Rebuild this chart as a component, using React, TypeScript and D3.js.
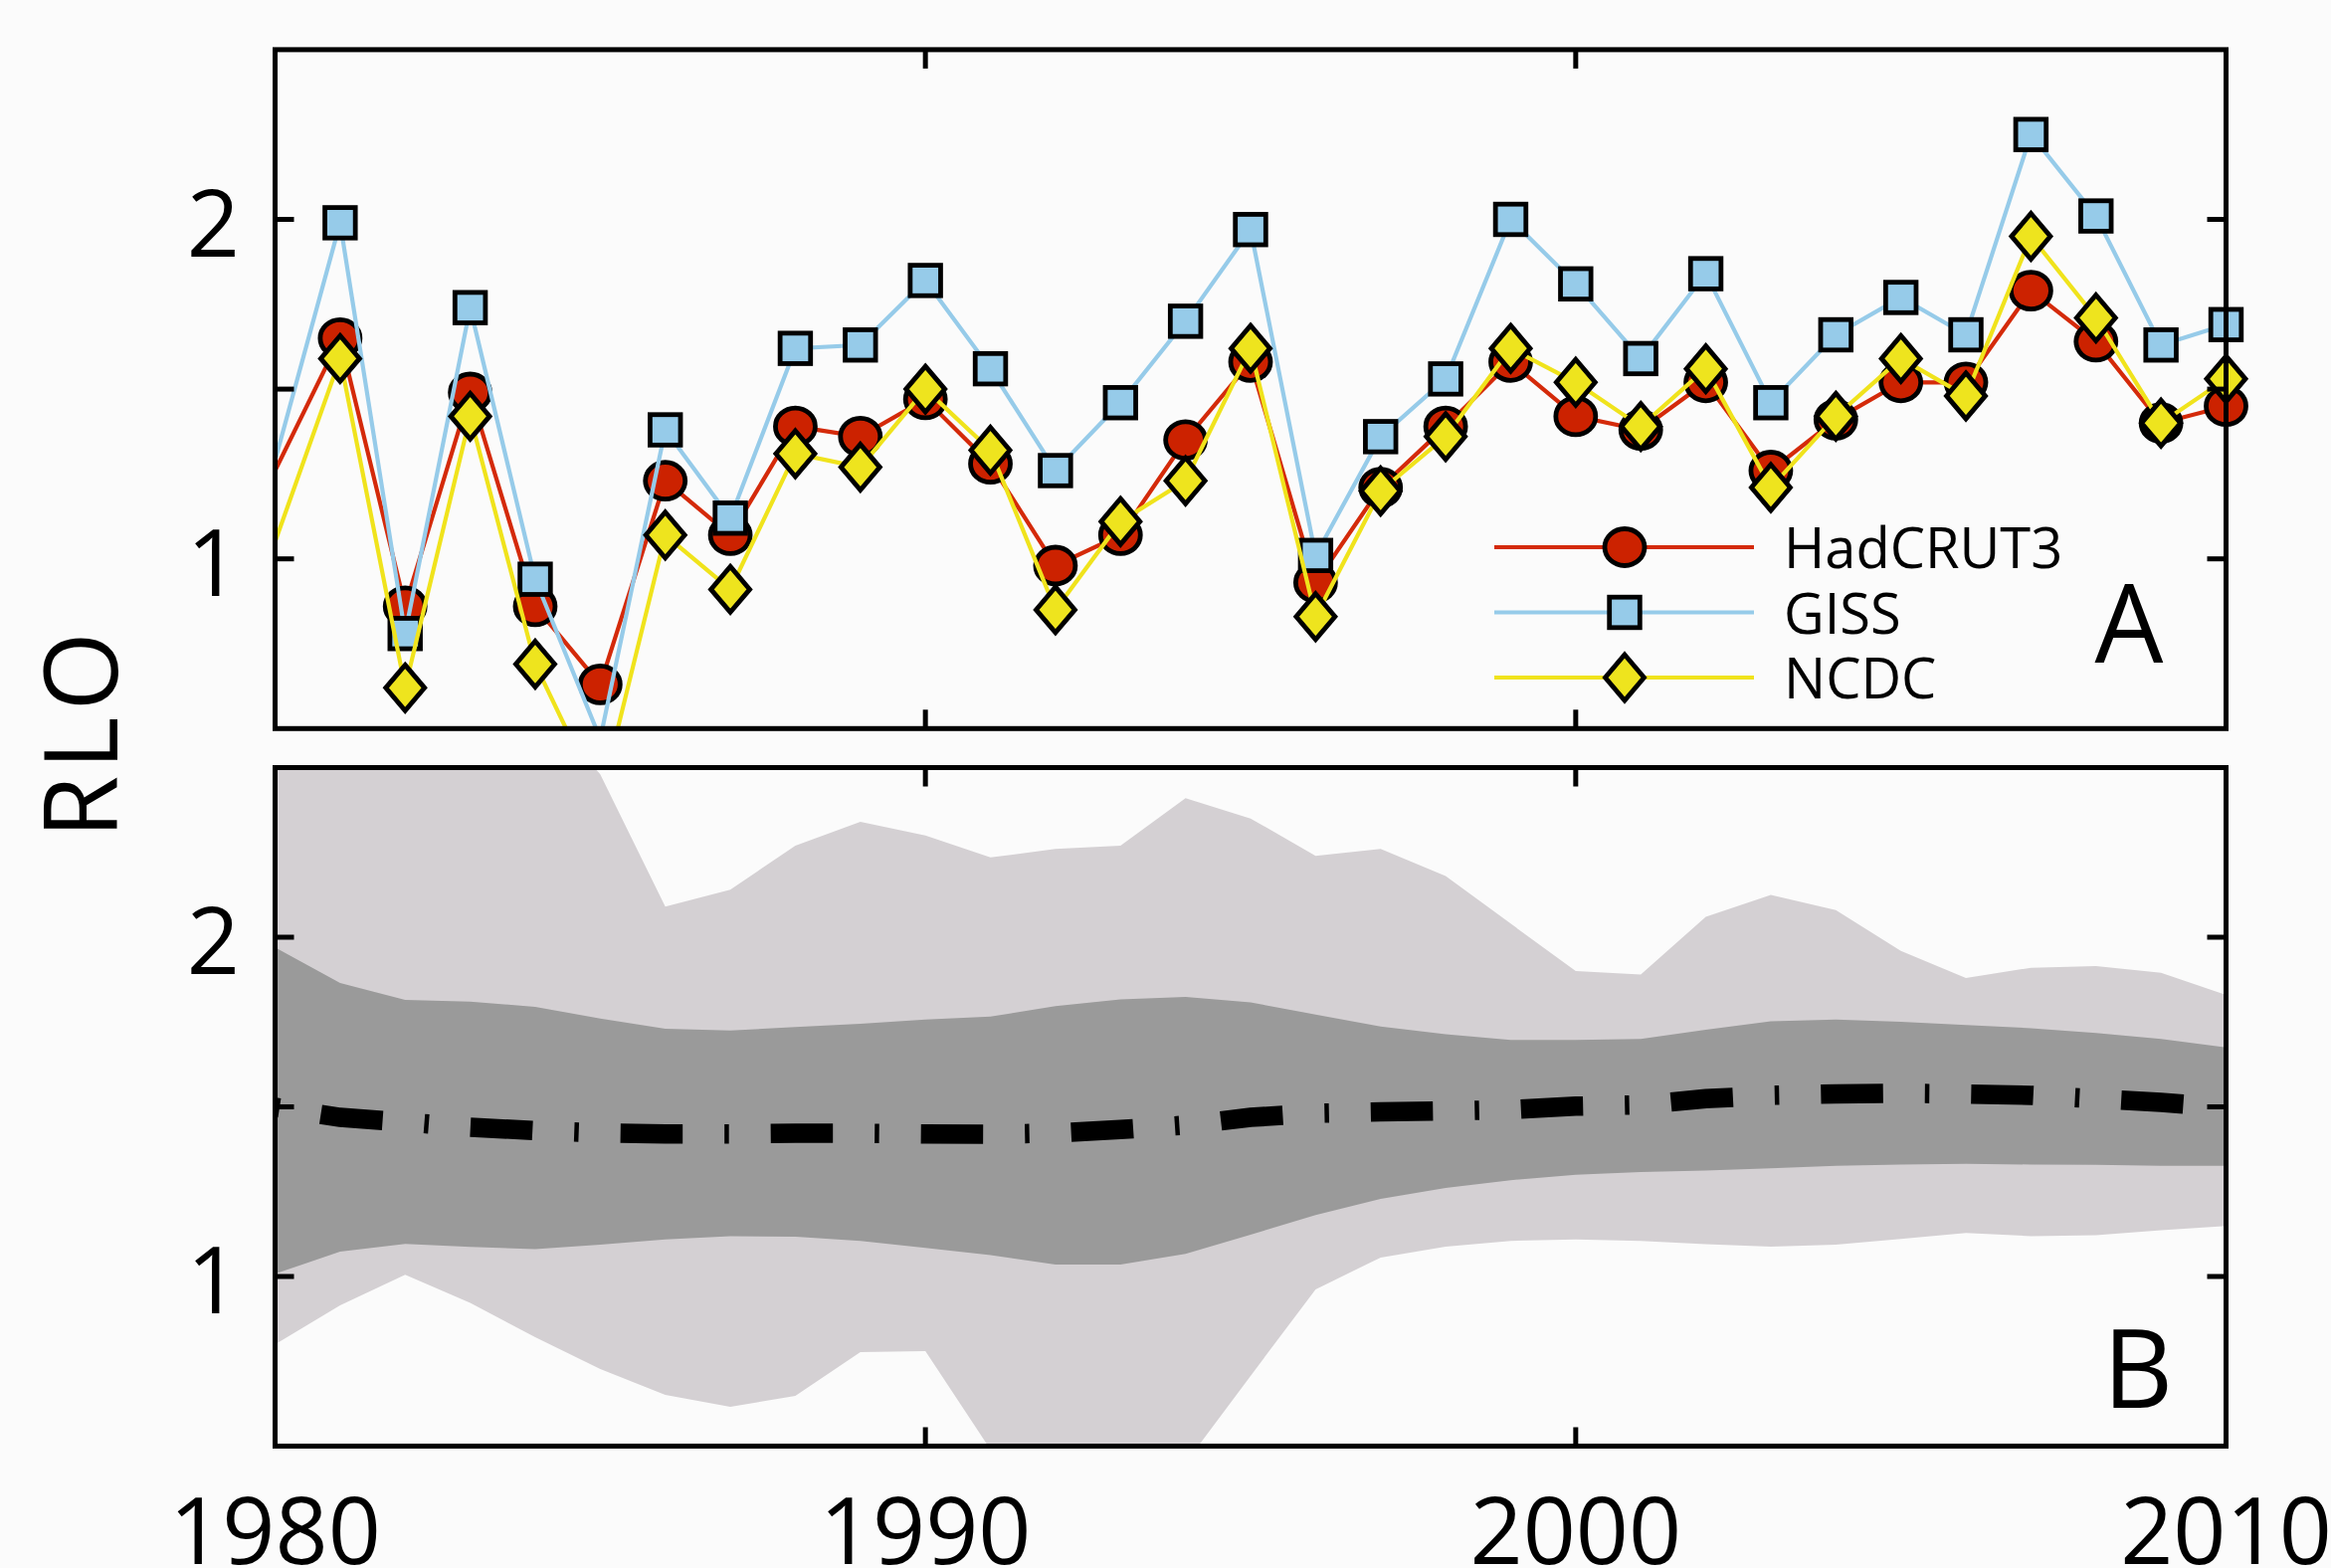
import React from "react";
import * as d3 from "d3";

const years = [1980,1981,1982,1983,1984,1985,1986,1987,1988,1989,1990,1991,1992,1993,1994,1995,1996,1997,1998,1999,2000,2001,2002,2003,2004,2005,2006,2007,2008,2009,2010];

const hadcrut3 = [1.26,1.65,0.86,1.49,0.86,0.63,1.23,1.07,1.39,1.36,1.47,1.28,0.98,1.07,1.35,1.58,0.93,1.21,1.39,1.58,1.42,1.38,1.52,1.26,1.41,1.52,1.52,1.79,1.64,1.40,1.45];
const giss = [1.29,1.99,0.78,1.74,0.94,0.47,1.38,1.12,1.62,1.63,1.82,1.56,1.26,1.46,1.70,1.97,1.01,1.36,1.53,2.00,1.81,1.59,1.84,1.46,1.66,1.77,1.66,2.25,2.01,1.63,1.69];
const ncdc = [1.05,1.59,0.62,1.42,0.69,0.29,1.07,0.91,1.31,1.27,1.50,1.32,0.85,1.11,1.23,1.62,0.83,1.20,1.36,1.62,1.52,1.39,1.56,1.21,1.42,1.59,1.48,1.95,1.71,1.40,1.53];

const lightUpper = [2.7,2.7,2.7,2.7,2.7,2.48,2.09,2.14,2.27,2.34,2.30,2.235,2.26,2.27,2.41,2.35,2.24,2.26,2.18,2.04,1.90,1.89,2.06,2.125,2.08,1.96,1.88,1.91,1.915,1.895,1.83];
const darkUpper = [1.97,1.865,1.815,1.81,1.795,1.76,1.73,1.725,1.735,1.745,1.757,1.766,1.797,1.817,1.824,1.808,1.772,1.737,1.714,1.697,1.697,1.70,1.727,1.752,1.757,1.751,1.741,1.732,1.718,1.70,1.675];
const darkLower = [1.008,1.073,1.096,1.087,1.081,1.094,1.109,1.119,1.117,1.105,1.084,1.063,1.035,1.035,1.067,1.123,1.181,1.229,1.261,1.284,1.30,1.308,1.312,1.319,1.326,1.33,1.332,1.33,1.329,1.326,1.326];
const lightLower = [0.80,0.915,1.005,0.922,0.821,0.727,0.651,0.616,0.648,0.777,0.78,0.49,0.35,0.35,0.45,0.707,0.962,1.056,1.088,1.105,1.109,1.105,1.095,1.088,1.094,1.111,1.128,1.119,1.122,1.136,1.149];
const median = [1.499,1.469,1.455,1.44,1.43,1.423,1.42,1.42,1.422,1.422,1.42,1.419,1.423,1.433,1.446,1.469,1.481,1.485,1.488,1.492,1.502,1.506,1.524,1.534,1.538,1.54,1.538,1.534,1.524,1.513,1.499];

const xTicks = [1980, 1990, 2000, 2010];
const xInnerTicks = [1990, 2000];
const yTicks = [1, 1.5, 2];
const yLabels = [1, 2];
const seriesNames = ["HadCRUT3", "GISS", "NCDC"];

const W = 2343, H = 1576;
const FONT = "'Open Sans', 'Noto Sans', sans-serif";
const BG = "#fbfbfb";

const x = d3.scaleLinear().domain([1980, 2010]).range([276.5, 2237.5]);
const yTop = d3.scaleLinear().domain([0.5, 2.5]).range([732.3, 49.9]);
const yBot = d3.scaleLinear().domain([0.5, 2.5]).range([1453.5, 771.5]);

const COLORS = {
  red: "#d42a0a",
  redFill: "#cc2200",
  blue: "#96cbe9",
  yellow: "#f0e31c",
  yellowFill: "#eee41e",
};

type Marker = "circle" | "square" | "diamond";

function MarkerShape({ kind, cx, cy, fill }: { kind: Marker; cx: number; cy: number; fill: string }) {
  const sw = 4.8;
  if (kind === "circle") return <ellipse cx={cx} cy={cy} rx={20} ry={18.5} fill={fill} stroke="#000" strokeWidth={sw} />;
  if (kind === "square") return <rect x={cx - 15.3} y={cy - 15.3} width={30.6} height={30.6} fill={fill} stroke="#000" strokeWidth={sw} />;
  return <path d={`M${cx},${cy - 23}L${cx + 19.5},${cy}L${cx},${cy + 23}L${cx - 19.5},${cy}Z`} fill={fill} stroke="#000" strokeWidth={sw} strokeLinejoin="miter" />;
}

function Frame({ y }: { y: d3.ScaleLinear<number, number> }) {
  const [x0, x1] = x.range();
  const yb = y(0.5), yt = y(2.5);
  const tl = 19, sw = 5;
  return (
    <g stroke="#000" strokeWidth={sw} fill="none">
      {yTicks.map((t) => (
        <g key={t}>
          <line x1={x0} x2={x0 + tl} y1={y(t)} y2={y(t)} />
          <line x1={x1} x2={x1 - tl} y1={y(t)} y2={y(t)} />
        </g>
      ))}
      {xInnerTicks.map((t) => (
        <g key={t}>
          <line x1={x(t)} x2={x(t)} y1={yb} y2={yb - tl} />
          <line x1={x(t)} x2={x(t)} y1={yt} y2={yt + tl} />
        </g>
      ))}
      <rect x={x0} y={yt} width={x1 - x0} height={yb - yt} />
    </g>
  );
}

function YLabels({ y }: { y: d3.ScaleLinear<number, number> }) {
  return (
    <g fontFamily={FONT} fontSize={93} fill="#000" textAnchor="end">
      {yLabels.map((t) => (
        <text key={t} x={241} y={y(t) + 37}>{t}</text>
      ))}
    </g>
  );
}

export default function App() {
  const series = [
    { name: seriesNames[0], values: hadcrut3, line: COLORS.red, fill: COLORS.redFill, marker: "circle" as Marker },
    { name: seriesNames[1], values: giss, line: COLORS.blue, fill: COLORS.blue, marker: "square" as Marker },
    { name: seriesNames[2], values: ncdc, line: COLORS.yellow, fill: COLORS.yellowFill, marker: "diamond" as Marker },
  ];

  const lineTop = (vals: number[]) =>
    d3.line<number>().x((_, i) => x(years[i])).y((v) => yTop(v))(vals) || "";

  const bandArea = (lo: number[], hi: number[]) =>
    d3
      .area<number>()
      .x((_, i) => x(years[i]))
      .y0((_, i) => yBot(lo[i]))
      .y1((_, i) => yBot(hi[i]))(years) || "";

  const medianPath = d3.line<number>().x((_, i) => x(years[i])).y((v) => yBot(v))(median) || "";

  const [x0, x1] = x.range();
  const legendX0 = 1502, legendX1 = 1763, legendMarkerX = 1633, legendTextX = 1793;
  const legendYs = [550, 615.5, 681];

  return (
    <svg width={W} height={H} style={{ position: "absolute", left: 0, top: 0, background: BG }}>
      <defs>
        <clipPath id="clipTop">
          <rect x={x0} y={yTop(2.5)} width={x1 - x0} height={yTop(0.5) - yTop(2.5)} />
        </clipPath>
        <clipPath id="clipBot">
          <rect x={x0} y={yBot(2.5)} width={x1 - x0} height={yBot(0.5) - yBot(2.5)} />
        </clipPath>
      </defs>
      <rect x={0} y={0} width={W} height={H} fill={BG} />

      {/* Panel A */}
      {series.map((s) => (
        <g key={s.name}>
          <path d={lineTop(s.values)} fill="none" stroke={s.line} strokeWidth={4.2} clipPath="url(#clipTop)" />
          {s.values.map((v, i) =>
            years[i] > 1980 && v >= 0.5 && v <= 2.5 ? (
              <MarkerShape key={i} kind={s.marker} cx={x(years[i])} cy={yTop(v)} fill={s.fill} />
            ) : null
          )}
        </g>
      ))}

      {/* Legend */}
      {series.map((s, i) => (
        <g key={s.name}>
          <line x1={legendX0} x2={legendX1} y1={legendYs[i]} y2={legendYs[i]} stroke={s.line} strokeWidth={4.2} />
          <MarkerShape kind={s.marker} cx={legendMarkerX} cy={legendYs[i]} fill={s.fill} />
          <text x={legendTextX} y={legendYs[i] + 21} fontFamily={FONT} fontSize={56} fill="#000">{s.name}</text>
        </g>
      ))}
      <text x={2140} y={666} fontFamily={FONT} fontSize={109} textAnchor="middle" fill="#000">A</text>
      <Frame y={yTop} />
      <YLabels y={yTop} />

      {/* Panel B */}
      <g clipPath="url(#clipBot)">
        <path d={bandArea(lightLower, lightUpper)} fill="#d4d0d3" />
        <path d={bandArea(darkLower, darkUpper)} fill="#9a9a9a" />
        <path d={medianPath} fill="none" stroke="#000" strokeWidth={19.5} strokeDasharray="4.5 42 62.5 42" strokeLinecap="butt" />
      </g>
      <text x={2149} y={1415} fontFamily={FONT} fontSize={109} textAnchor="middle" fill="#000">B</text>
      <Frame y={yBot} />
      <YLabels y={yBot} />

      {/* X axis labels */}
      <g fontFamily={FONT} fontSize={93} fill="#000" textAnchor="middle">
        {xTicks.map((t) => (
          <text key={t} x={x(t)} y={1572}>{t}</text>
        ))}
      </g>

      {/* Y axis title */}
      <text transform="translate(118,736) rotate(-90)" fontFamily={FONT} fontSize={102} textAnchor="middle" letterSpacing={6} fill="#000">RLO</text>
    </svg>
  );
}
